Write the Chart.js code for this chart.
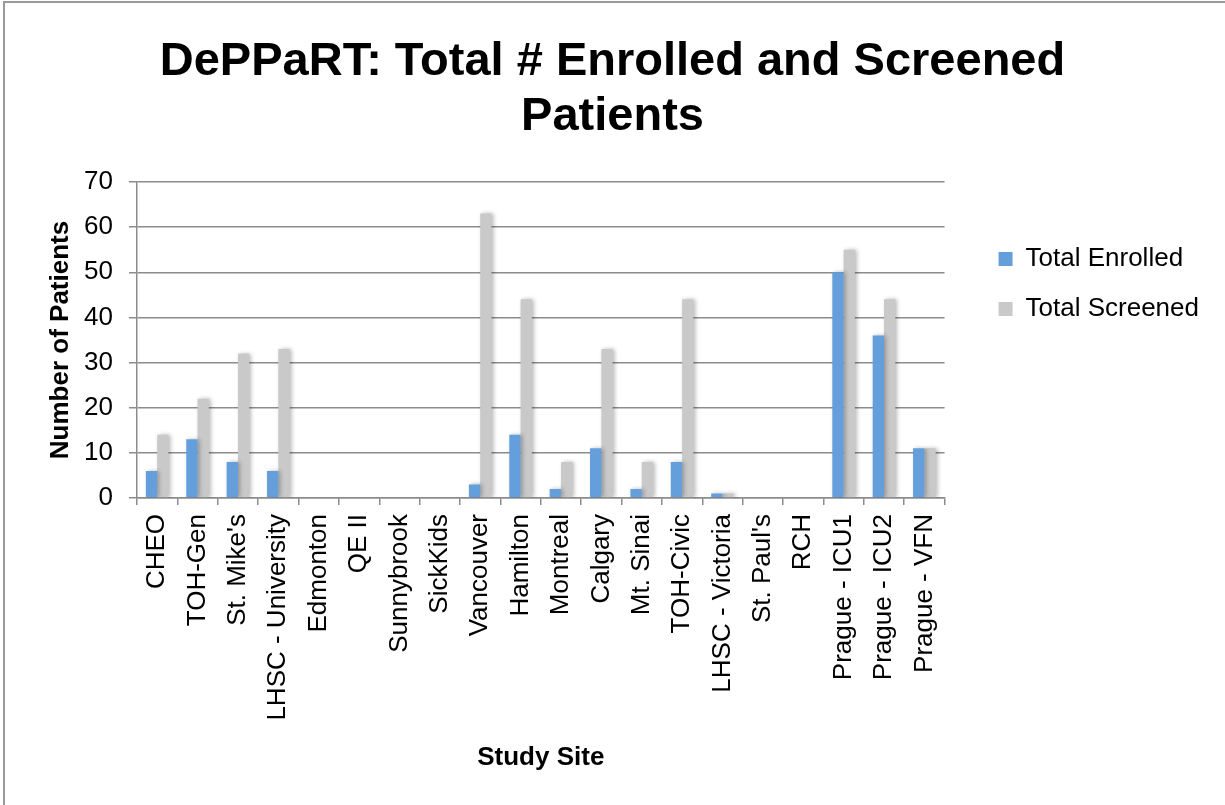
<!DOCTYPE html>
<html>
<head>
<meta charset="utf-8">
<title>DePPaRT enrolment</title>
<script src="https://cdn.jsdelivr.net/npm/chart.js@4"></script>
<style>
  html, body { margin: 0; padding: 0; background: #fff; }
  #wrap { position: relative; width: 1225px; height: 805px; }
  #frame { position: absolute; left: 3px; top: 1px; right: 0; bottom: 0;
           border-left: 2px solid #9a9a9a; border-top: 2px solid #9a9a9a; pointer-events: none; }
</style>
</head>
<body>
<div id="wrap">
  <canvas id="chart" width="1225" height="805"></canvas>
  <div id="frame"></div>
</div>
<script>
// ---------------- DATA ----------------
const sites = [
  'CHEO', 'TOH-Gen', "St. Mike's", 'LHSC - University', 'Edmonton', 'QE II',
  'Sunnybrook', 'SickKids', 'Vancouver', 'Hamilton', 'Montreal', 'Calgary',
  'Mt. Sinai', 'TOH-Civic', 'LHSC - Victoria', "St. Paul's", 'RCH',
  'Prague - ICU1', 'Prague - ICU2', 'Prague - VFN'
];
const totalEnrolled = [6, 13, 8, 6, 0, 0, 0, 0, 3, 14, 2, 11, 2, 8, 1, 0, 0, 50, 36, 11];
const totalScreened = [14, 22, 32, 33, 0, 0, 0, 0, 63, 44, 8, 33, 8, 44, 1, 0, 0, 55, 44, 11];

// ---------------- STYLE ----------------
const FONT = "'Liberation Sans', Arial, sans-serif";
const GRID = '#8c8c8c';
const LEGEND_EXTRA = 46;   // widen legend box so the plot ends near x=944
const LEGEND_SHIFT = 30;   // move legend items away from the plot

// soft drop shadow like the office chart bars
const barShadow = {
  id: 'barShadow',
  beforeDatasetDraw(chart) {
    const ctx = chart.ctx;
    ctx.save();
    ctx.shadowColor = 'rgba(0,0,0,0.28)';
    ctx.shadowBlur = 4;
    ctx.shadowOffsetX = 2;
    ctx.shadowOffsetY = 0;
  },
  afterDatasetDraw(chart) {
    chart.ctx.restore();
  }
};

const legendNudge = {
  id: 'legendNudge',
  beforeLayout(chart) {
    const lg = chart.legend;
    if (lg && !lg._wideFit) {
      const fit = lg.fit;
      lg.fit = function () { fit.call(this); this.width += LEGEND_EXTRA; };
      lg._wideFit = true;
    }
  },
  afterLayout(chart) {
    if (chart.legend) chart.legend.left += LEGEND_SHIFT;
  }
};

new Chart(document.getElementById('chart'), {
  type: 'bar',
  data: {
    labels: sites,
    datasets: [
      { label: 'Total Enrolled', data: totalEnrolled, backgroundColor: '#659fdb',
        categoryPercentage: 0.56, barPercentage: 1.0 },
      { label: 'Total Screened', data: totalScreened, backgroundColor: '#c9c9c9',
        categoryPercentage: 0.56, barPercentage: 1.0 }
    ]
  },
  options: {
    responsive: false,
    animation: false,
    devicePixelRatio: 1,
    layout: { padding: 0 },
    plugins: {
      title: {
        display: true,
        text: ['DePPaRT: Total # Enrolled and Screened', 'Patients'],
        color: '#000',
        font: { family: FONT, size: 47, weight: 'bold', lineHeight: 1.17 },
        padding: { top: 35, bottom: 37 }
      },
      legend: {
        position: 'right',
        align: 'start',
        fullSize: false,
        title: { display: true, text: ' ', font: { size: 10 }, padding: { top: 28, bottom: 0 } },
        labels: {
          color: '#000',
          font: { family: FONT, size: 26 },
          boxWidth: 14,
          boxHeight: 14,
          padding: 24
        }
      },
      tooltip: { enabled: false }
    },
    scales: {
      x: {
        grid: { drawOnChartArea: false, drawTicks: true, tickLength: 7, color: GRID, lineWidth: 1.5 },
        border: { color: GRID, width: 1.5 },
        ticks: { color: '#000', font: { family: FONT, size: 26 }, minRotation: 90, maxRotation: 90, padding: 9, autoSkip: false },
        title: { display: true, text: 'Study Site', color: '#000',
                 font: { family: FONT, size: 26, weight: 'bold' }, padding: { top: 0, bottom: 32 } },
        afterFit(scale) { scale.height = 307; }
      },
      y: {
        min: 0,
        max: 70,
        grid: { color: GRID, lineWidth: 1.5, tickLength: 8 },
        border: { color: GRID, width: 1.5 },
        ticks: { stepSize: 10, color: '#000', font: { family: FONT, size: 26 }, padding: 16 },
        title: { display: true, text: 'Number of Patients', color: '#000',
                 font: { family: FONT, size: 26, weight: 'bold' }, padding: { top: 45, bottom: 0 } },
        afterFit(scale) { scale.width = 137; }
      }
    }
  },
  plugins: [barShadow, legendNudge]
});
</script>
</body>
</html>
